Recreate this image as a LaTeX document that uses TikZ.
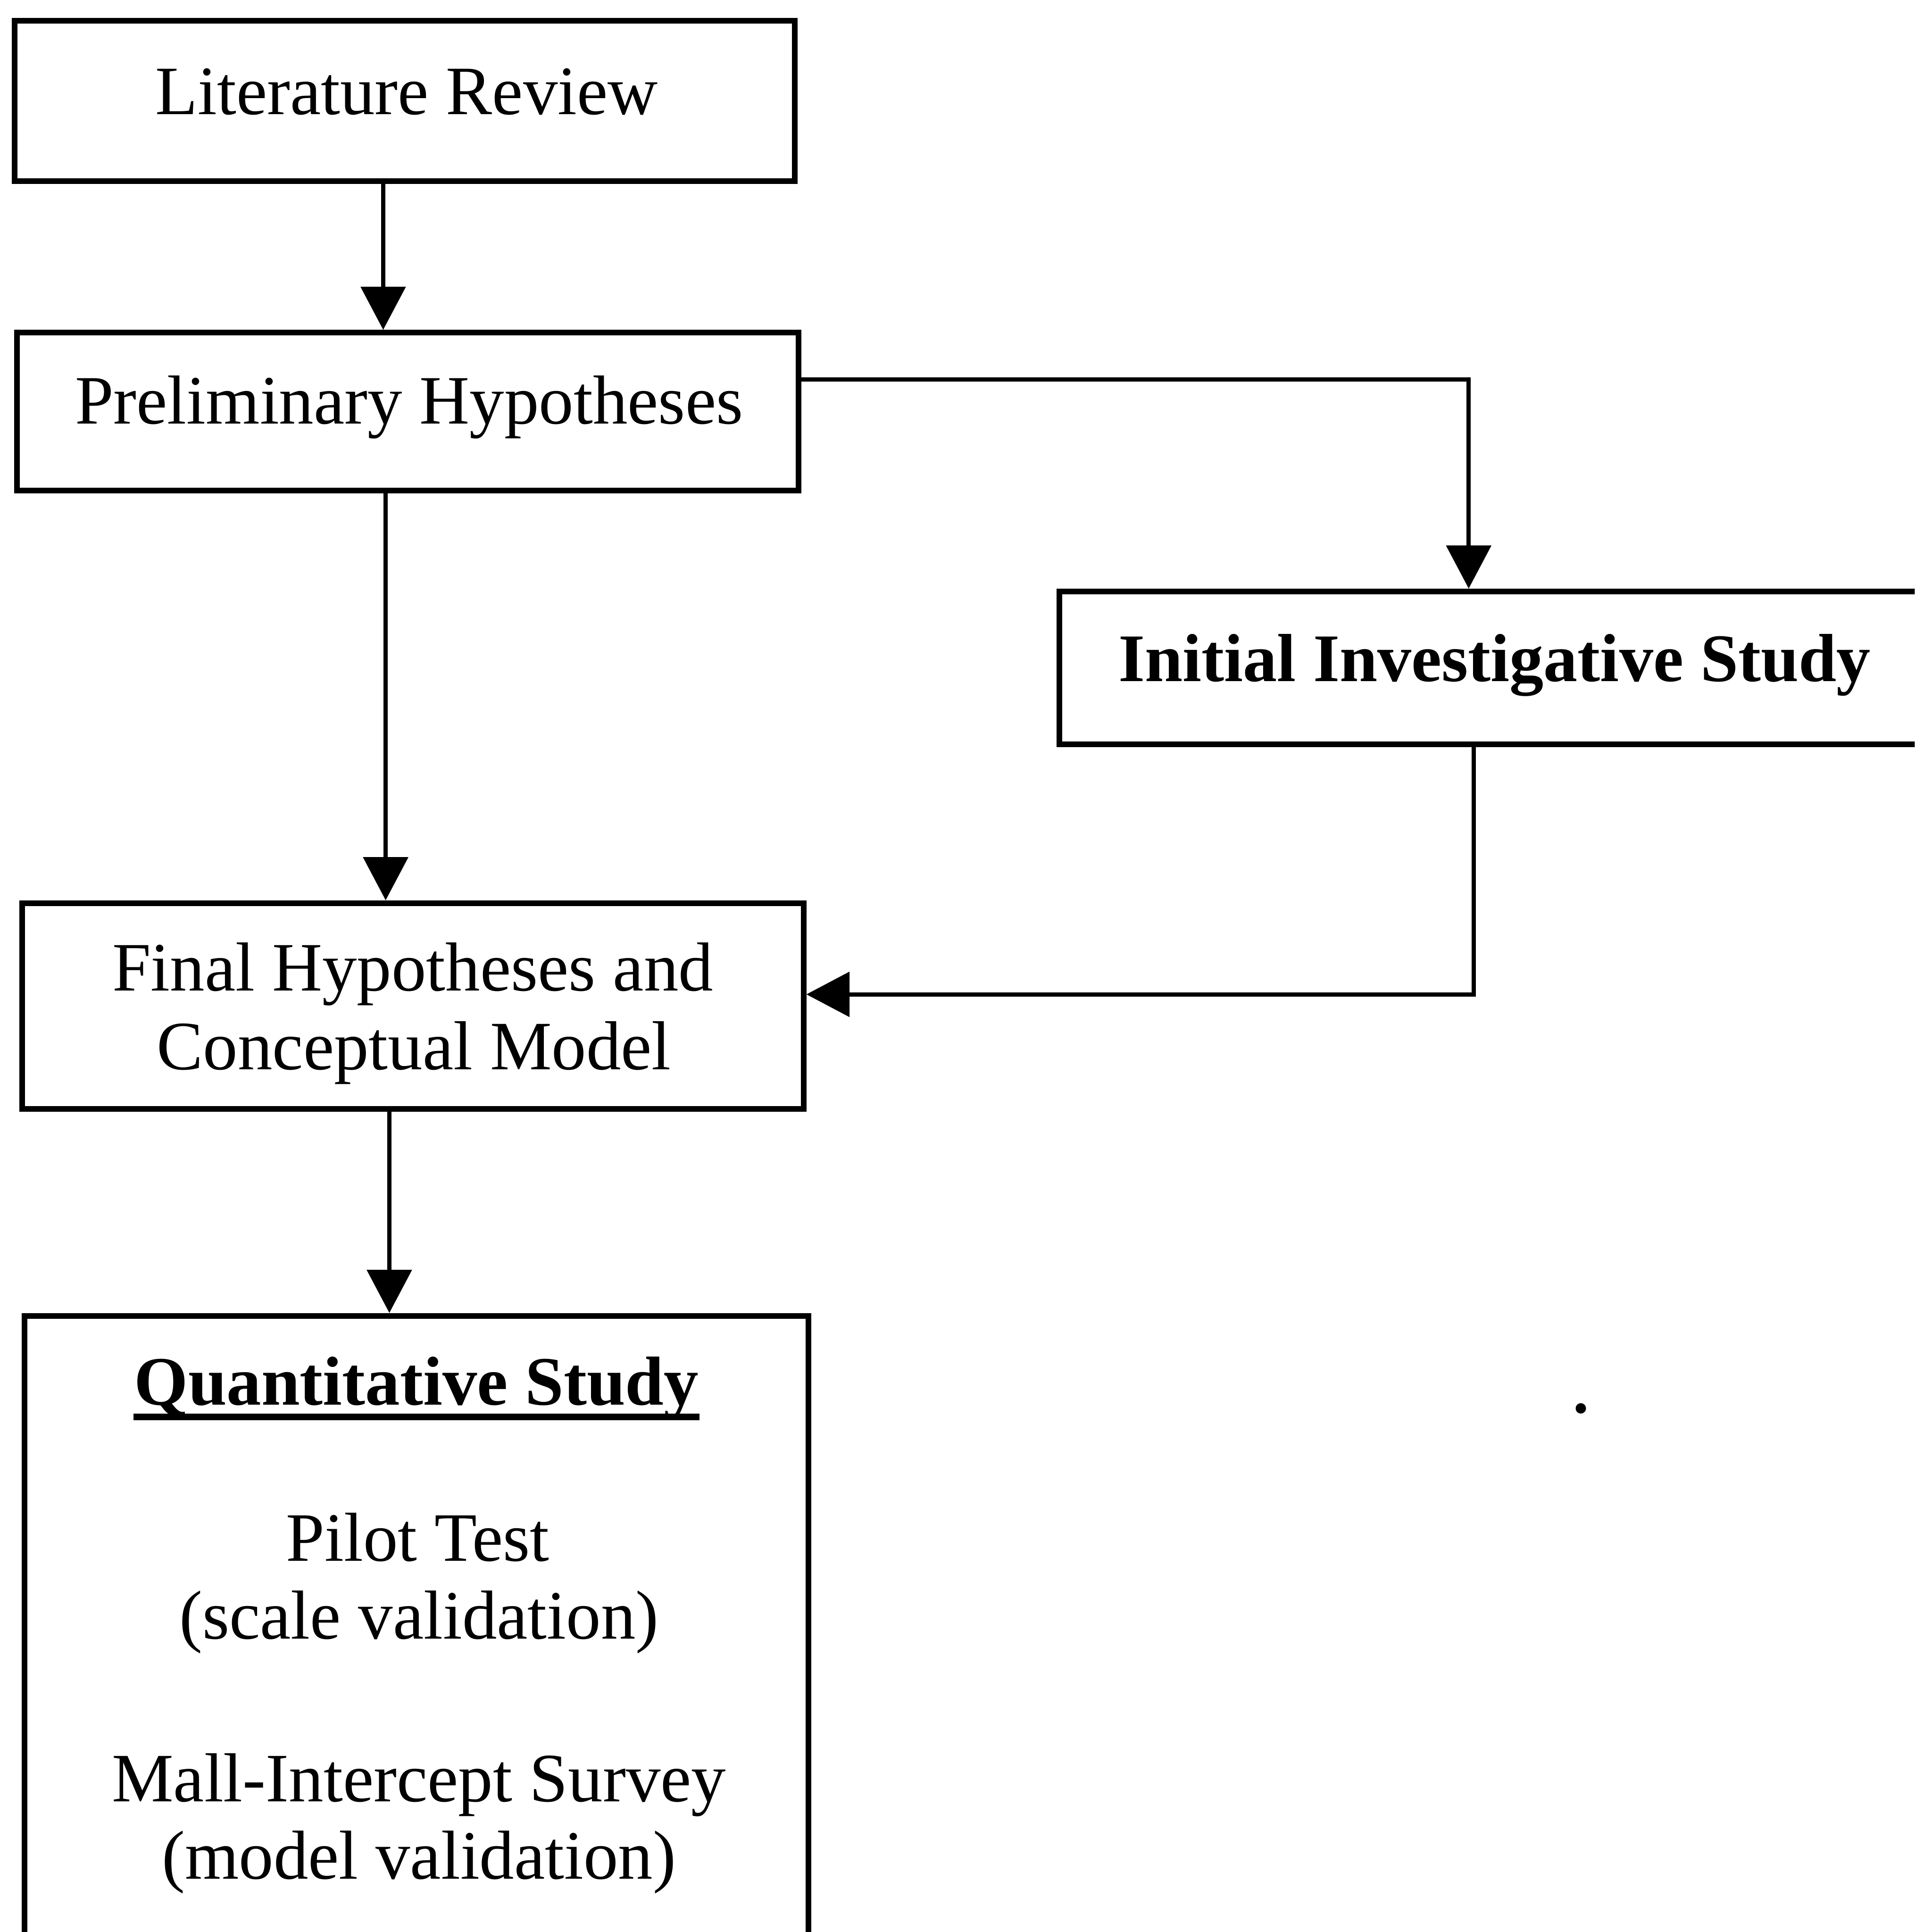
\documentclass[tikz,border=0pt]{standalone}
\usepackage{fontspec}
\setmainfont{Liberation Serif}
\usetikzlibrary{arrows.meta,calc}
\begin{document}
\begin{tikzpicture}[x=0.01cm,y=-0.01cm,
  box/.style={draw, line width=1.3pt, inner sep=0pt},
  lbl/.style={inner sep=0pt, anchor=base, font=\fontsize{16}{18.4}\selectfont},
  arr/.style={line width=1pt, -{Triangle[width=3.6mm,length=3.5mm]}}]
\useasboundingbox (0,0) rectangle (1554,1568);
\clip (0,0) rectangle (1554,1568);
\fill[white] (0,0) rectangle (1554,1568);

% boxes
\node[box, minimum width=6.33cm, minimum height=1.30cm] (lit)     at (328.5,82)   {};
\node[box, minimum width=6.34cm, minimum height=1.28cm] (prelim)  at (331,334)    {};
\node[box, minimum width=7.10cm, minimum height=1.24cm] (initial) at (1215,542)   {};
\node[box, minimum width=6.34cm, minimum height=1.67cm] (final)   at (335,816.5)  {};
\node[box, minimum width=6.36cm, minimum height=5.02cm] (quant)   at (338,1319)   {};

% labels
\node[lbl] (litT)  at (330,93)   {Literature Review};
\node[lbl] (preT)  at (332,344)  {Preliminary Hypotheses};
\node[lbl] (iniT)  at (1213,553) {\fontsize{15.7}{18.4}\selectfont\textbf{Initial Investigative Study}};
\node[lbl] (finT1) at (335,804)  {Final Hypotheses and};
\node[lbl] (finT2) at (336,868)  {Conceptual Model};
\node[lbl] (qT)    at (338,1140) {\textbf{Quantitative Study}};
\node[lbl] (pT1)   at (339,1267) {Pilot Test};
\node[lbl] (pT2)   at (340,1330) {(scale validation)};
\node[lbl] (mT1)   at (340,1462) {Mall-Intercept Survey};
\node[lbl] (mT2)   at (340,1525) {(model validation)};
\draw[line width=1.5pt] ($(qT.base west)+(0,10)$) -- ($(qT.base east)+(0,10)$);

% connector guides
\coordinate (c1) at (311,0);
\coordinate (c2) at (313,0);
\coordinate (c3) at (316,0);
\coordinate (c4) at (1192,0);
\coordinate (c5) at (1196,0);
\coordinate (r1) at (0,308);
\coordinate (r2) at (0,807);

% connectors
\draw[arr] (lit.south -| c1) -- (prelim.north -| c1);
\draw[arr] (prelim.south -| c2) -- (final.north -| c2);
\draw[arr] (final.south -| c3) -- (quant.north -| c3);
\draw[arr] (prelim.east |- r1) -| (initial.north -| c4);
\draw[arr] (initial.south -| c5) |- (final.east |- r2);

% stray speck
\fill (1283,1143) circle (1.2pt);
\end{tikzpicture}
\end{document}
